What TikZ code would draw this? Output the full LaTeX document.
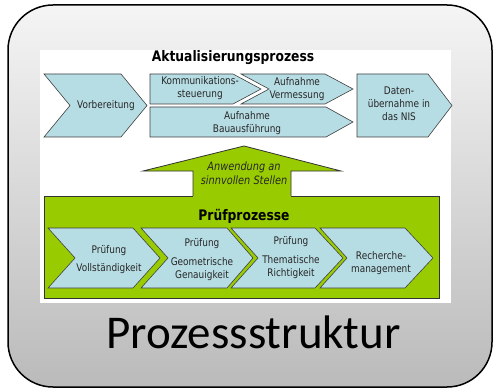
\documentclass[tikz,border=0pt]{standalone}
\usepackage{fontspec}
\setmainfont{DejaVu Sans}[FakeStretch=0.85]
\newfontfamily\titelfont{Carlito}
\definecolor{hellblau}{RGB}{183,221,228}
\definecolor{gruen}{RGB}{153,204,0}
\begin{document}
\begin{tikzpicture}[x=1pt,y=-1pt,
    blau/.style={draw=black!75,fill=hellblau,line width=0.6pt},
    schrift/.style={font=\fontsize{10.5}{13}\selectfont,align=center,inner sep=0pt,text=black!85},
    titel/.style={font=\fontsize{14.5}{17}\selectfont\bfseries,inner sep=0pt}]
  \useasboundingbox (0,0) rectangle (494,390);
  % Rahmen mit Verlauf
  \draw[line width=1.5pt,rounded corners=45pt,top color=black!4,bottom color=black!27]
    (8,5) rectangle (492,387);
  \fill[white] (40,50) rectangle (451,303);
  % Aktualisierungsprozess
  \node[titel] (akt) at (233,58) {Aktualisierungsprozess};
  \draw[blau] (44,74) -- (121,74) -- (147,105.5) -- (121,137) -- (44,137) -- (70,105.5) -- cycle;
  \draw[blau] (150,74) -- (233,74) -- (261,89) -- (233,104) -- (150,104) -- cycle;
  \draw[blau] (241,74) -- (325,74) -- (353,89) -- (325,104) -- (241,104) -- (269,89) -- cycle;
  \draw[blau] (150,107) -- (326,107) -- (353,122) -- (326,137) -- (150,137) -- cycle;
  \draw[blau] (357,74) -- (428,74) -- (452,105.5) -- (428,137) -- (357,137) -- cycle;
  \node[schrift] (vorb) at (106,106) {Vorbereitung};
  \node[schrift] (komm) at (200,88) {Kommunikations-\\steuerung};
  \node[schrift] (verm) at (297,89) {Aufnahme\\Vermessung};
  \node[schrift] (bau) at (247,123) {Aufnahme\\Bauausführung};
  \node[schrift] (nis) at (399,104) {Daten-\\übernahme in\\das NIS};
  % Pruefprozesse
  \draw[draw=black!80,fill=gruen,line width=0.8pt] (44,196) rectangle (439,298);
  \fill[gruen] (193,197) -- (193,171) -- (143,171) -- (244,146) -- (341,171) -- (291,171) -- (291,197) -- cycle;
  \draw[black!80,line width=0.8pt] (193,196) -- (193,171) -- (143,171) -- (244,146) -- (341,171) -- (291,171) -- (291,196);
  \node[schrift,font=\fontsize{11.5}{14}\selectfont\itshape] (anw) at (244,173) {Anwendung an\\sinnvollen Stellen};
  \node[titel] (pruef) at (244,216) {Prüfprozesse};
  \draw[blau] (48,228) -- (133,228) -- (160,258) -- (133,288) -- (48,288) -- (75,258) -- cycle;
  \draw[blau] (141,228) -- (227,228) -- (253,258) -- (227,288) -- (141,288) -- (168,258) -- cycle;
  \draw[blau] (231,228) -- (315,228) -- (343,258) -- (315,288) -- (231,288) -- (258,258) -- cycle;
  \draw[blau] (320,228) -- (405,228) -- (433,258) -- (405,288) -- (320,288) -- (347,258) -- cycle;
  \node[schrift] (p1) at (109,260) {Prüfung\\[5pt]Vollständigkeit};
  \node[schrift] (p2) at (202,260) {Prüfung\\[6pt]Geometrische\\Genauigkeit};
  \node[schrift] (p3) at (291,258) {Prüfung\\[6pt]Thematische\\Richtigkeit};
  \node[schrift] (p4) at (381,263.5) {Recherche-\\management};
  % Titel
  \node[font=\titelfont\fontsize{47}{50}\selectfont,anchor=base,inner sep=0pt] (struktur) at (253.5,348) {Prozessstruktur};
\end{tikzpicture}
\end{document}
